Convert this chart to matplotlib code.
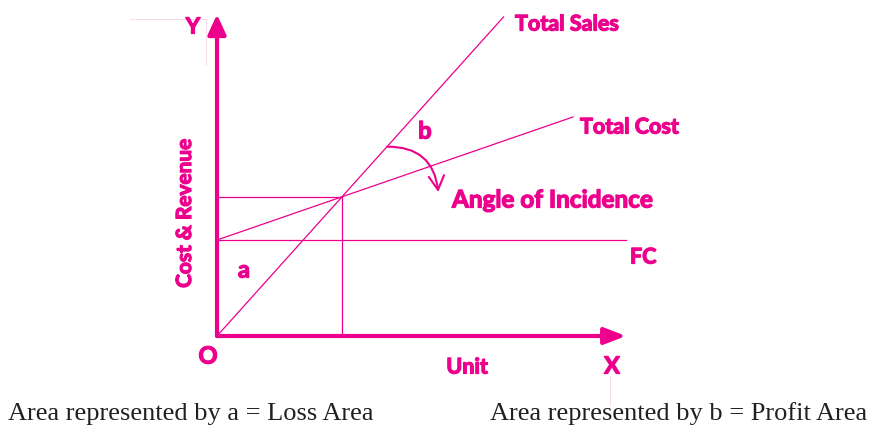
import numpy as np
import matplotlib
matplotlib.use("Agg")
import matplotlib.pyplot as plt
import matplotlib.patheffects as pe

# break-even chart values (units on x, cost & revenue on y)
fixed_cost = 4.0
var_cost = 0.36          # slope of total cost line
price = 1.16             # slope of total sales line
bep_units = fixed_cost / (price - var_cost)
bep_value = price * bep_units

x_axis_end = 16.36
y_axis_end = 13.4
sales_end = 11.46
cost_end = 14.24
fc_end = 16.36

labels_top = ["Total Sales", "Total Cost", "FC", "Angle of Incidence"]
caption_a = "Area represented by a = Loss Area"
caption_b = "Area represented by b = Profit Area"

MAG = "#EC008C"
W, H = 869, 425
ox, oy = 217, 336        # origin in pixels
sx, sy = 25.0, 24.0      # pixels per unit

fig = plt.figure(figsize=(W / 100, H / 100), dpi=100)
ax = fig.add_axes([0, 0, 1, 1])
ax.set_xlim(-ox / sx, (W - ox) / sx)
ax.set_ylim(-(H - oy) / sy, oy / sy)
ax.axis("off")

# thicken Lato Bold a bit to look like the heavy rounded face of the original
bold = dict(family="Lato", weight="bold", color=MAG,
            path_effects=[pe.withStroke(linewidth=0.9, foreground=MAG)])


def fpos(px, py):
    return px / W, 1 - py / H


# axes with arrows
ax.annotate("", xy=(x_axis_end, 0), xytext=(0, 0),
            arrowprops=dict(arrowstyle="-|>,head_length=1.3,head_width=0.5",
                            color=MAG, lw=3, shrinkA=0, shrinkB=0))
ax.annotate("", xy=(0, y_axis_end), xytext=(0, 0),
            arrowprops=dict(arrowstyle="-|>,head_length=1.2,head_width=0.55",
                            color=MAG, lw=3, shrinkA=0, shrinkB=0))

# lines
xs = np.array([0, sales_end])
ax.plot(xs, price * xs, color=MAG, lw=0.9)
xc = np.array([0, cost_end])
ax.plot(xc, fixed_cost + var_cost * xc, color=MAG, lw=0.9)
ax.plot([0, fc_end], [fixed_cost, fixed_cost], color=MAG, lw=0.9)
ax.plot([0, bep_units], [bep_value, bep_value], color=MAG, lw=0.9)
ax.plot([bep_units, bep_units], [0, bep_value], color=MAG, lw=0.9)

# angle of incidence arrow
a0 = 6.8
ax.annotate("", xy=(8.85, 6.0), xytext=(a0, price * a0),
            arrowprops=dict(arrowstyle="->,head_length=1.0,head_width=0.55",
                            color=MAG, lw=1.5, shrinkA=0, shrinkB=0,
                            connectionstyle="arc3,rad=-0.45"))

# faint scan artifacts
fig.add_artist(plt.Line2D([130 / W, 205 / W], [1 - 19 / H, 1 - 19 / H], color="#f7d6e8", lw=0.6))
fig.add_artist(plt.Line2D([206 / W, 206 / W], [1 - 19 / H, 1 - 65 / H], color="#f7d6e8", lw=0.6))
fig.add_artist(plt.Line2D([610 / W, 610 / W], [1 - 376 / H, 1 - 405 / H], color="#f7d6e8", lw=0.6))

# labels
fig.text(*fpos(193, 27), "Y", fontsize=16, ha="center", va="center", **bold)
fig.text(*fpos(515, 24), labels_top[0], fontsize=15.5, ha="left", va="center", **bold)
fig.text(*fpos(580, 127), labels_top[1], fontsize=15.5, ha="left", va="center", **bold)
fig.text(*fpos(630, 257), labels_top[2], fontsize=15.5, ha="left", va="center", **bold)
fig.text(*fpos(452, 200), labels_top[3], fontsize=17.5, ha="left", va="center", **bold)
fig.text(*fpos(425, 131), "b", fontsize=17, ha="center", va="center", **bold)
fig.text(*fpos(244, 270), "a", fontsize=17, ha="center", va="center", **bold)
fig.text(*fpos(185, 213), "Cost & Revenue", fontsize=15, rotation=90,
         ha="center", va="center", **bold)
fig.text(*fpos(208, 356), "O", fontsize=17, ha="center", va="center", **bold)
fig.text(*fpos(467, 367), "Unit", fontsize=15.5, ha="center", va="center", **bold)
fig.text(*fpos(612, 366), "X", fontsize=17, ha="center", va="center", **bold)

serif = dict(family="Liberation Serif", color="#231f20", fontsize=19)
fig.text(*fpos(8, 420), caption_a, ha="left", va="baseline", **serif)
fig.text(*fpos(490, 420), caption_b, ha="left", va="baseline", **serif)

fig.savefig("out.png", dpi=100)
